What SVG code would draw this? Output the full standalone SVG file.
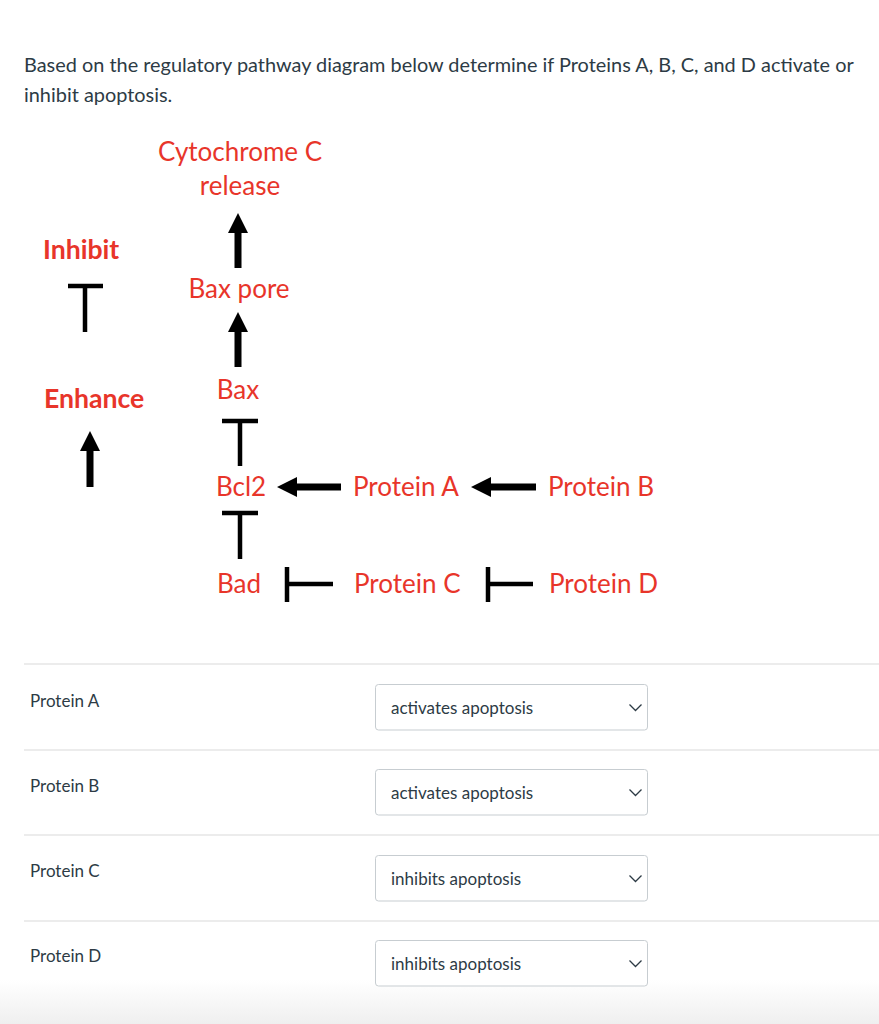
<svg xmlns="http://www.w3.org/2000/svg" width="879" height="1024" viewBox="0 0 879 1024">
<defs>
<linearGradient id="fade" x1="0" y1="0" x2="0" y2="1">
<stop offset="0" stop-color="#ffffff"/>
<stop offset="1" stop-color="#efefef"/>
</linearGradient>
<style>
.q{font-family:Lato,"Liberation Sans",sans-serif;font-size:19.9px;fill:#2d3b45}
.r{font-family:Lato,"Liberation Sans",sans-serif;font-size:26px;fill:#e8352a}
.rb{font-family:Lato,"Liberation Sans",sans-serif;font-size:26.6px;font-weight:bold;fill:#e8352a}
.lbl{font-family:Lato,"Liberation Sans",sans-serif;font-size:17px;fill:#2d3b45}
.sel{fill:#ffffff;stroke:#c7cdd1;stroke-width:1}
.chev{fill:none;stroke:#2d3b45;stroke-width:1.3}
.sep{stroke:#e6e6e6;stroke-width:1.5}
.bar{stroke:#000;stroke-width:4.5;fill:none}
.arr{fill:#000}
</style>
</defs>
<rect x="0" y="0" width="879" height="1024" fill="#ffffff"/>
<rect x="0" y="980" width="879" height="44" fill="url(#fade)"/>

<g id="question">
<text class="q" x="24" y="72">Based on the regulatory pathway diagram below determine if Proteins A, B, C, and D activate or</text>
<text class="q" x="24" y="102">inhibit apoptosis.</text>
</g>

<g id="legend-inhibit"><text class="rb" x="43" y="259">Inhibit</text></g>
<g id="legend-enhance"><text class="rb" x="44" y="408">Enhance</text></g>

<g id="node-cytc"><text class="r" x="240" y="161" text-anchor="middle">Cytochrome C</text><text class="r" x="240" y="195" text-anchor="middle">release</text></g>
<g id="node-baxpore"><text class="r" x="239" y="298" text-anchor="middle">Bax pore</text></g>
<g id="node-bax"><text class="r" x="238" y="399" text-anchor="middle">Bax</text></g>
<g id="node-bcl2"><text class="r" x="241" y="496" text-anchor="middle">Bcl2</text></g>
<g id="node-bad"><text class="r" x="239" y="593" text-anchor="middle">Bad</text></g>
<g id="node-proteinA"><text class="r" x="353" y="496">Protein A</text></g>
<g id="node-proteinB"><text class="r" x="548" y="496">Protein B</text></g>
<g id="node-proteinC"><text class="r" x="354" y="593">Protein C</text></g>
<g id="node-proteinD"><text class="r" x="549" y="593">Protein D</text></g>

<g id="connectors">
<path class="bar" d="M68 286H103M85 286V332"/>
<polygon class="arr" points="90,431 100,451 93.5,451 93.5,487 86.5,487 86.5,451 80,451"/>
<polygon class="arr" points="238,213 248,233 241.5,233 241.5,268 234.5,268 234.5,233 228,233"/>
<polygon class="arr" points="238,312 248,332 241.5,332 241.5,367 234.5,367 234.5,332 228,332"/>
<path class="bar" d="M222 421H258M240 421V466"/>
<path class="bar" d="M222 513H258M240 513V559"/>
<polygon class="arr" points="277,487 297,477 297,483.5 341,483.5 341,490.5 297,490.5 297,497"/>
<polygon class="arr" points="471,487 491,477 491,483.5 536,483.5 536,490.5 491,490.5 491,497"/>
<path class="bar" d="M287 567V602M287 584H333"/>
<path class="bar" d="M488 567V602M488 584H533"/>
</g>

<g id="answers">
<line class="sep" x1="24" y1="664" x2="879" y2="664"/>
<line class="sep" x1="24" y1="750" x2="879" y2="750"/>
<line class="sep" x1="24" y1="835" x2="879" y2="835"/>
<line class="sep" x1="24" y1="921" x2="879" y2="921"/>

<g id="row-A">
<text class="lbl" x="30" y="707">Protein A</text>
<rect class="sel" x="375.5" y="684.5" width="272" height="45.5" rx="3"/>
<text class="lbl" x="391" y="714">activates apoptosis</text>
<path class="chev" d="M629.5 704.5L635.5 710.5L641.5 704.5"/>
</g>
<g id="row-B">
<text class="lbl" x="30" y="792">Protein B</text>
<rect class="sel" x="375.5" y="769.5" width="272" height="45.5" rx="3"/>
<text class="lbl" x="391" y="799">activates apoptosis</text>
<path class="chev" d="M629.5 789.5L635.5 795.5L641.5 789.5"/>
</g>
<g id="row-C">
<text class="lbl" x="30" y="877">Protein C</text>
<rect class="sel" x="375.5" y="855.5" width="272" height="45.5" rx="3"/>
<text class="lbl" x="391" y="885">inhibits apoptosis</text>
<path class="chev" d="M629.5 875.5L635.5 881.5L641.5 875.5"/>
</g>
<g id="row-D">
<text class="lbl" x="30" y="962">Protein D</text>
<rect class="sel" x="375.5" y="940.5" width="272" height="45.5" rx="3"/>
<text class="lbl" x="391" y="970">inhibits apoptosis</text>
<path class="chev" d="M629.5 960.5L635.5 966.5L641.5 960.5"/>
</g>
</g>
</svg>
